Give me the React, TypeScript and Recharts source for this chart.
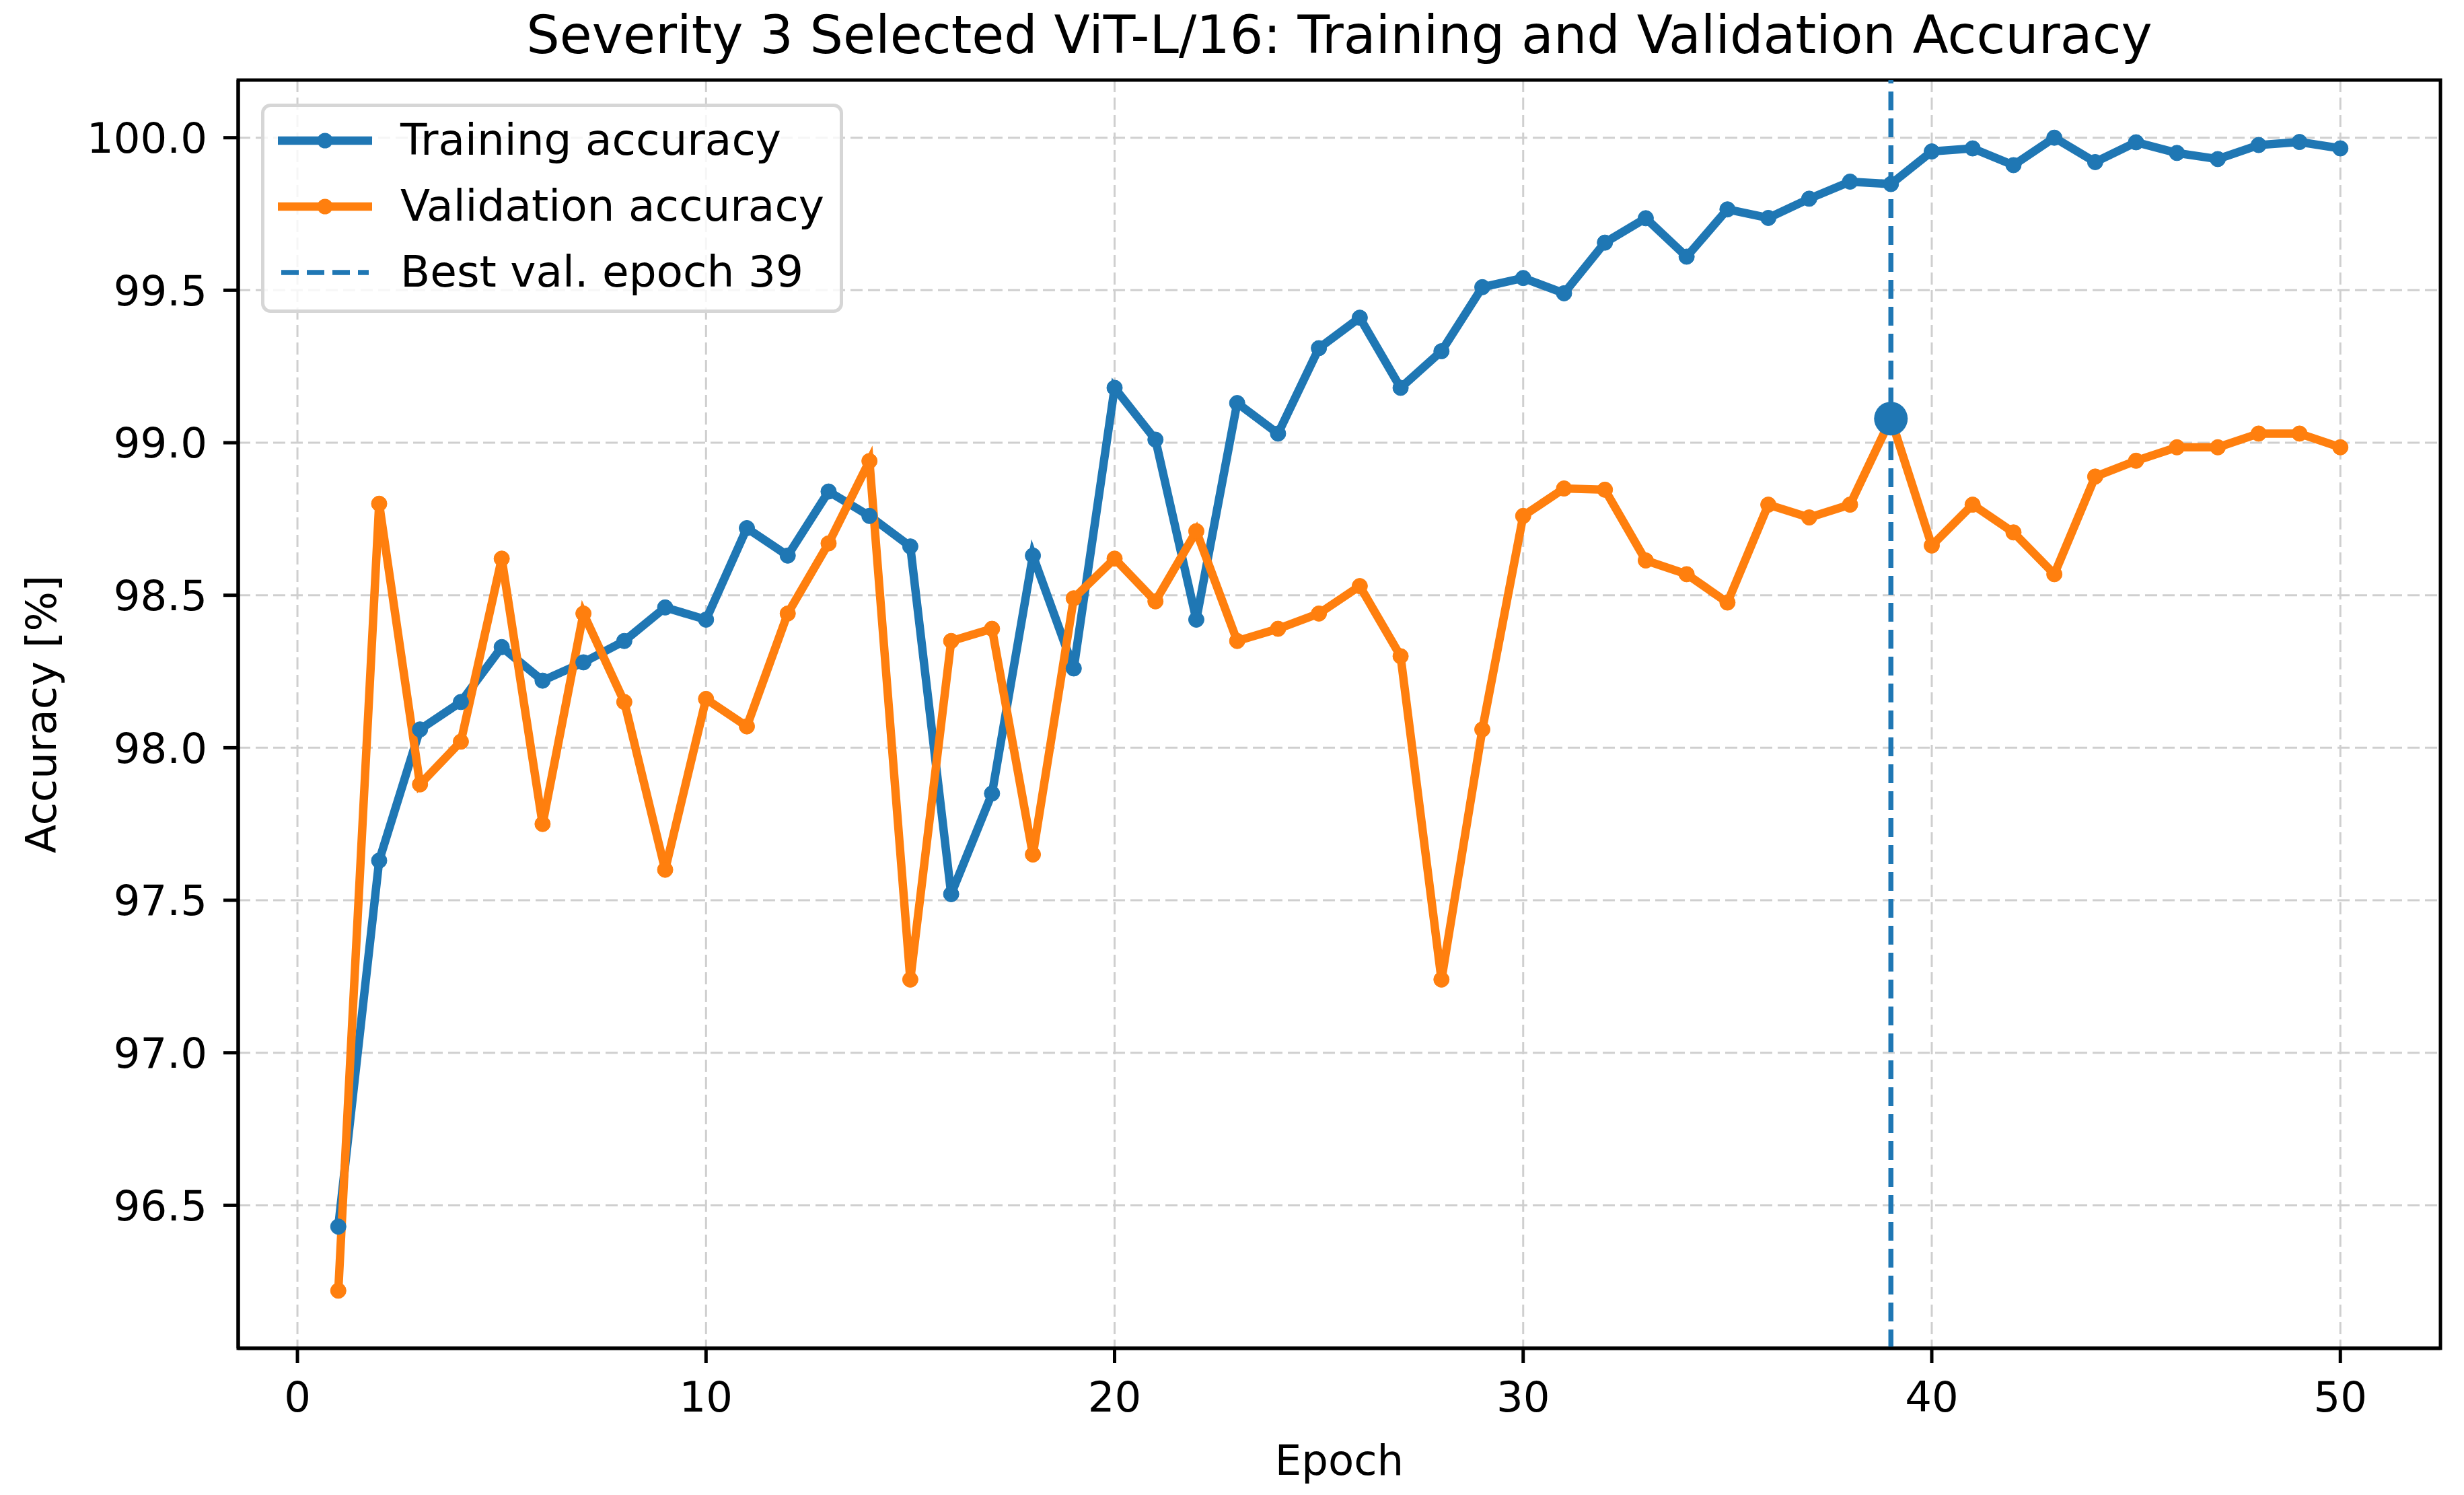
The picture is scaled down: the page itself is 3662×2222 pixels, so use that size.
import { LineChart, Line, XAxis, YAxis, CartesianGrid, Legend, ReferenceLine, ReferenceArea } from 'recharts';

// epochs and accuracies (%)
const epochs = [
  1, 2, 3, 4, 5, 6, 7, 8, 9, 10,
  11, 12, 13, 14, 15, 16, 17, 18, 19, 20,
  21, 22, 23, 24, 25, 26, 27, 28, 29, 30,
  31, 32, 33, 34, 35, 36, 37, 38, 39, 40,
  41, 42, 43, 44, 45, 46, 47, 48, 49, 50,
];

const trainAcc = [
  96.43, 97.63, 98.06, 98.15, 98.33, 98.22, 98.28, 98.35, 98.46, 98.42,
  98.72, 98.63, 98.84, 98.76, 98.66, 97.52, 97.85, 98.63, 98.26, 99.18,
  99.01, 98.42, 99.13, 99.03, 99.31, 99.41, 99.18, 99.30, 99.51, 99.54,
  99.49, 99.656, 99.736, 99.61, 99.765, 99.737, 99.80, 99.856, 99.848, 99.955,
  99.965, 99.91, 100.0, 99.92, 99.985, 99.95, 99.93, 99.976, 99.986, 99.965,
];

const valAcc = [
  96.22, 98.80, 97.88, 98.02, 98.62, 97.75, 98.44, 98.15, 97.60, 98.16,
  98.07, 98.44, 98.67, 98.94, 97.24, 98.35, 98.39, 97.65, 98.49, 98.62,
  98.48, 98.71, 98.35, 98.39, 98.44, 98.53, 98.30, 97.24, 98.06, 98.76,
  98.85, 98.846, 98.614, 98.569, 98.476, 98.797, 98.755, 98.797, 99.079, 98.663,
  98.797, 98.706, 98.569, 98.889, 98.941, 98.985, 98.985, 99.03, 99.03, 98.985,
];

const bestEpoch = 39;
const xTicks = [0, 10, 20, 30, 40, 50];
const yTicks = [96.5, 97.0, 97.5, 98.0, 98.5, 99.0, 99.5, 100.0];
const xDomain: [number, number] = [-1.45, 52.45];
const yDomain: [number, number] = [96.031, 100.189];

const legendItems = [
  { label: 'Training accuracy', color: '#1f77b4', kind: 'line' },
  { label: 'Validation accuracy', color: '#ff7f0e', kind: 'line' },
  { label: `Best val. epoch ${bestEpoch}`, color: '#1f77b4', kind: 'dash' },
];

const data = epochs.map((e, i) => ({
  epoch: e,
  train: trainAcc[i],
  val: valAcc[i],
  best: e === bestEpoch ? valAcc[i] : null,
}));

const FONT = "'DejaVu Sans', sans-serif";
const BLUE = '#1f77b4';
const ORANGE = '#ff7f0e';

const renderLegend = () => (
  <div
    style={{
      position: 'relative',
      width: 865,
      height: 311,
      boxSizing: 'border-box',
      border: '5px solid #d6d6d6',
      borderRadius: 14,
      background: 'rgba(255,255,255,0.8)',
      fontFamily: FONT,
      fontSize: 64.5,
      color: '#000',
    }}
  >
    {legendItems.map((item, i) => (
      <div key={item.label} style={{ position: 'absolute', left: 0, top: 46 + i * 98 - 37, height: 80, width: '100%' }}>
        <svg width={150} height={80} style={{ position: 'absolute', left: 16, top: 0 }}>
          {item.kind === 'line' ? (
            <>
              <line x1={4} y1={41} x2={144} y2={41} stroke={item.color} strokeWidth={12.5} />
              <circle cx={74} cy={41} r={11.5} fill={item.color} />
            </>
          ) : (
            <line x1={9} y1={41} x2={139} y2={41} stroke={item.color} strokeWidth={7.5} strokeDasharray="26 12" />
          )}
        </svg>
        <span style={{ position: 'absolute', left: 202, top: 0, lineHeight: '80px', whiteSpace: 'nowrap' }}>{item.label}</span>
      </div>
    ))}
  </div>
);

export default function App() {
  const tickStyle = { fontSize: 62.5, fill: '#000', fontFamily: FONT };
  return (
    <div style={{ position: 'absolute', left: 0, top: 0, width: 3662, height: 2222, background: '#fff', fontFamily: FONT }}>
      <div
        style={{
          position: 'absolute',
          left: 354,
          width: 3273,
          top: 13,
          textAlign: 'center',
          fontSize: 78,
          lineHeight: '78px',
          color: '#000',
          whiteSpace: 'nowrap',
        }}
      >
        Severity 3 Selected ViT-L/16: Training and Validation Accuracy
      </div>
      <LineChart width={3662} height={2222} data={data} margin={{ top: 119, right: 35, bottom: 8, left: 24 }}>
        <CartesianGrid stroke="#cfcfcf" strokeWidth={3} strokeDasharray="18 8" />
        <XAxis
          dataKey="epoch"
          type="number"
          domain={xDomain}
          ticks={xTicks}
          allowDataOverflow
          height={210}
          tick={tickStyle}
          tickSize={22}
          tickMargin={28}
          tickLine={{ stroke: '#000', strokeWidth: 5 }}
          axisLine={{ stroke: '#000', strokeWidth: 5 }}
          label={{ value: 'Epoch', position: 'insideBottom', offset: 22, style: { fontSize: 62.5, fill: '#000', fontFamily: FONT } }}
        />
        <YAxis
          type="number"
          domain={yDomain}
          ticks={yTicks}
          allowDataOverflow
          width={330}
          tick={tickStyle}
          tickFormatter={(v: number) => v.toFixed(1)}
          tickSize={22}
          tickMargin={24}
          tickLine={{ stroke: '#000', strokeWidth: 5 }}
          axisLine={{ stroke: '#000', strokeWidth: 5 }}
          label={{
            value: 'Accuracy [%]',
            angle: -90,
            position: 'insideLeft',
            offset: 37,
            style: { fontSize: 62.5, fill: '#000', fontFamily: FONT, textAnchor: 'middle' },
          }}
        />
        <ReferenceLine x={bestEpoch} stroke={BLUE} strokeWidth={7.5} strokeDasharray="28 12" />
        <Line
          dataKey="train"
          stroke={BLUE}
          strokeWidth={12.5}
          dot={{ r: 11.5, fill: BLUE, stroke: BLUE, strokeWidth: 1 }}
          activeDot={false}
          isAnimationActive={false}
        />
        <Line
          dataKey="val"
          stroke={ORANGE}
          strokeWidth={12.5}
          dot={{ r: 11.5, fill: ORANGE, stroke: ORANGE, strokeWidth: 1 }}
          activeDot={false}
          isAnimationActive={false}
        />
        <Line
          dataKey="best"
          stroke="none"
          dot={{ r: 25, fill: BLUE, stroke: 'none' }}
          activeDot={false}
          legendType="none"
          isAnimationActive={false}
        />
        <ReferenceArea x1={xDomain[0]} x2={xDomain[1]} y1={yDomain[0]} y2={yDomain[1]} fill="none" stroke="#000" strokeWidth={5} ifOverflow="visible" />
        <Legend
          content={renderLegend}
          layout="vertical"
          align="center"
          verticalAlign="middle"
          wrapperStyle={{ position: 'absolute', left: 388, top: 154, width: 865, height: 311 }}
        />
      </LineChart>
    </div>
  );
}
